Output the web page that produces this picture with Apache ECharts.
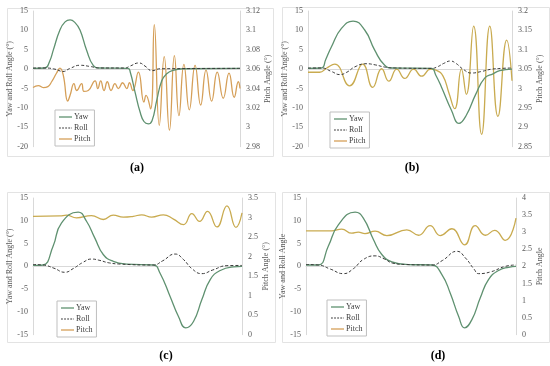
<!DOCTYPE html>
<html><head><meta charset="utf-8">
<script src="https://cdn.jsdelivr.net/npm/echarts@6/dist/echarts.min.js"></script>
<style>html,body{margin:0;padding:0;background:#fff}#c{width:550px;height:366px}</style>
</head><body><div id="c"></div>
<script>
// ---------- DATA ----------
const panelLabels = ['(a)', '(b)', '(c)', '(d)'];
const seriesNames = ['Yaw', 'Roll', 'Pitch'];
const leftNames = ['Yaw and Roll Angle (°)', 'Yaw and Roll Angle (°)', 'Yaw and Roll Angle (°)', 'Yaw and Roll Angle'];
const rightNames = ['Pitch Angle (°)', 'Pitch Angle (°)', 'Pitch Angle (°)', 'Pitch Angle'];
const leftRanges = [[-20, 15, 5], [-20, 15, 5], [-15, 15, 5], [-15, 15, 5]];
const rightRanges = [[2.98, 3.12, 0.02], [2.85, 3.2, 0.05], [0, 3.5, 0.5], [0, 4, 0.5]];

// time (0-100, arbitrary units), angle
const yawA = [[0,0.2],[5.8,0.3],[8,2],[9.8,4.9],[13,10.1],[15.5,12.2],[17.9,12.7],[20.3,12],[22.7,10.1],[25.9,4.9],[29.1,1.0],[32.4,0.3],[45.9,0.2],[47,-0.8],[49.3,-5.9],[51.7,-11],[53.6,-13.5],[55.7,-14.1],[57.5,-13.3],[59.8,-8],[62.2,-3],[64.6,-1.2],[67.6,-0.3],[72.5,0.1],[100,0.2]];
const rollA = [[0,0.3],[5.8,0.3],[10.6,0],[14.5,-0.6],[17.9,0.2],[22.7,1.0],[27.5,0.7],[32.4,0.3],[44.4,0.3],[46.9,0.8],[51.2,1.6],[54.1,0.8],[57.5,-0.4],[61.4,0.1],[100,0.2]];
const pitchA = [[0,3.041],[2.6,3.043],[5,3.041],[7.2,3.042],[9,3.047],[11.4,3.056],[13,3.061],[14.6,3.054],[16.8,3.027],[17.9,3.033],[19.8,3.045],[21.1,3.038],[23.5,3.045],[24.6,3.037],[26.7,3.038],[30,3.048],[31.3,3.040],[32.7,3.048],[34.3,3.038],[35.9,3.047],[37.7,3.038],[39.6,3.045],[41.2,3.040],[43.3,3.046],[45.3,3.040],[46.6,3.046],[48.2,3.038],[50.9,3.057],[53.6,3.026],[54.6,3.033],[56.8,3.019],[58.6,3.106],[61,3.002],[63.4,3.073],[65.9,2.997],[68.3,3.074],[70.5,3.012],[72.9,3.065],[75.5,3.018],[78.3,3.064],[81,3.023],[83.6,3.059],[86.3,3.027],[89,3.057],[91.9,3.030],[94.7,3.056],[97.2,3.031],[99.2,3.047],[100,3.040]];

const yawB = [[0,0.2],[6.6,0.3],[8.7,2.5],[11.5,5.8],[16.4,10.5],[22.1,12.4],[27.8,10.1],[32.7,4.9],[37.6,1.0],[41.5,0.3],[60.5,0.2],[62.6,-1.5],[65.4,-4.6],[70.3,-10.6],[74,-14],[77.6,-11.9],[82.2,-6.5],[86.6,-2.3],[90.7,-1.2],[94,-0.4],[100,0]];
const rollB = [[0,0.3],[6.6,0.3],[11.5,-0.6],[15.6,-1.4],[19,-0.8],[23,0.6],[28.5,1.4],[33,1.1],[38,0.5],[43,0.3],[60.5,0.2],[63,0.5],[67,1.6],[69.8,2.1],[72.5,1.5],[76,0],[80.1,-1.0],[85,-0.6],[90,0],[95,0.2],[100,0.3]];
const pitchB = [[0,3.042],[5.7,3.042],[9.2,3.053],[13.1,3.063],[20.4,3.007],[26.8,3.063],[31.7,3.003],[36.1,3.051],[39.6,3.019],[43.5,3.05],[47.4,3.026],[51.8,3.05],[55.7,3.032],[60.1,3.05],[63,3.047],[66.2,3.032],[69,2.99],[71.9,2.948],[75.2,3.05],[77.6,2.985],[81.2,3.161],[85.1,2.882],[89.1,3.161],[93.1,2.928],[97.4,3.125],[100,3.02]];

const yawC = [[0,0.2],[4.8,0.3],[9.6,4.4],[13.6,9.5],[21.6,11.9],[25.6,9.9],[29.6,6.2],[33.6,2.6],[38.4,1.1],[44.8,0.5],[57.6,0.3],[60.8,-1.5],[65.6,-6.6],[69.6,-11],[73.1,-13.5],[76.8,-12.1],[80.8,-7.3],[84.8,-2.9],[89.6,-0.9],[96,-0.1],[100,0]];
const rollC = [[0,0.4],[4.8,0.3],[10,-0.4],[15.2,-1.3],[19.2,-0.5],[24,0.9],[28,1.6],[32,1.3],[36,0.8],[41.6,0.5],[57.6,0.3],[62,1.2],[68,2.7],[72,1.5],[76,-0.5],[80.8,-1.6],[86,-0.8],[92.8,0.15],[100,0.2]];
const pitchC = [[0,3.03],[12.8,3.04],[16,3.06],[20.8,2.99],[28,3.05],[33.6,2.95],[38.4,3.06],[43.2,3.01],[48,3.03],[52,3.07],[56.8,3.01],[62.4,3.07],[67.2,2.96],[72,2.82],[76,3.10],[79.7,2.90],[83.5,3.16],[88,2.76],[92.8,3.30],[97.1,2.75],[100,3.12]];

const yawD = [[0,0.3],[5.9,0.3],[10.6,4.4],[15.4,9.1],[23.4,11.9],[27.3,10.6],[32.1,5.9],[36.1,2.6],[40.9,1.0],[48.8,0.4],[59.9,0.3],[64.7,-1.8],[68.7,-5.9],[72.7,-11],[75.5,-13.5],[79,-11.7],[83,-6.9],[86.9,-2.9],[91.7,-0.9],[96.5,-0.2],[100,0]];
const rollD = [[0,0.4],[5.9,0.3],[11.6,-0.6],[17.8,-1.6],[22.6,-0.5],[27.3,1.5],[32.9,2.3],[37.4,1.6],[41.3,0.7],[48,0.4],[60,0.3],[65,1.3],[71.9,3.3],[76,1.8],[80,-0.6],[82.2,-1.6],[88,-1.2],[94.9,0],[100,0.3]];
const pitchD = [[0,3.04],[12.2,3.04],[17,3.09],[21.8,2.97],[24.9,3.00],[28.1,2.96],[32.9,3.03],[38.5,2.90],[48,3.07],[53.6,2.91],[59.1,3.19],[63.9,2.90],[69.5,3.10],[75.5,2.63],[80.6,3.19],[85.4,2.91],[89.8,3.05],[94.9,2.76],[100,3.41]];

const panelData = [[yawA, rollA, pitchA], [yawB, rollB, pitchB], [yawC, rollC, pitchC], [yawD, rollD, pitchD]];

// ---------- LAYOUT / STYLE ----------
const gridPos = [
  {left: 33, top: 11, width: 207, height: 135.7},
  {left: 308, top: 11, width: 204, height: 135.7},
  {left: 33, top: 198, width: 209, height: 136.7},
  {left: 306, top: 198, width: 210, height: 136.7}
];
const framePos = [[5, 6, 266, 148], [280, 5, 267, 149], [5, 190, 268, 150], [280, 190, 267, 150]];
const labelPos = [[137, 168], [412, 168], [166, 356], [438, 356]];
const legendPos = [[55, 110], [330, 112], [57, 301], [327, 300]];
const FONT = 'Liberation Serif';
const yawColor = '#5f9170', rollColor = '#3a3a3a';
const pitchColors = ['#d59f58', '#c9ab50', '#c9ab50', '#c9ab50'];
const axisGrey = '#d9d9d9', labelGrey = '#595959';
const solidIcon = 'path://M0,0H20V2H0Z';
const dashIcon = 'path://M0,0H3V2H0Z M5,0H8V2H5Z M10,0H13V2H10Z M15,0H18V2H15Z M20,0H21V2H20Z';

const grid = [], xAxis = [], yAxis = [], series = [], legend = [], graphic = [];
for (let i = 0; i < 4; i++) {
  grid.push(Object.assign({containLabel: false}, gridPos[i]));
  xAxis.push({type: 'value', gridIndex: i, min: 0, max: 100, show: true,
    axisLine: {show: true, onZero: true, onZeroAxisIndex: 2 * i, lineStyle: {color: axisGrey, width: 1}},
    axisTick: {show: false}, axisLabel: {show: false}, splitLine: {show: false}});
  const L = leftRanges[i], R = rightRanges[i];
  yAxis.push({type: 'value', gridIndex: i, position: 'left', min: L[0], max: L[1], interval: L[2],
    name: leftNames[i], nameLocation: 'middle', nameRotate: 90, nameGap: 11,
    nameTextStyle: {fontFamily: FONT, fontSize: 8, color: labelGrey},
    axisLine: {show: true, lineStyle: {color: axisGrey}}, axisTick: {show: false},
    axisLabel: {fontFamily: FONT, fontSize: 8, color: labelGrey, margin: 5},
    splitLine: {show: false}});
  yAxis.push({type: 'value', gridIndex: i, position: 'right', min: R[0], max: R[1], interval: R[2],
    name: rightNames[i], nameLocation: 'middle', nameRotate: 90, nameGap: 16,
    nameTextStyle: {fontFamily: FONT, fontSize: 8, color: labelGrey},
    axisLine: {show: true, lineStyle: {color: axisGrey}}, axisTick: {show: false},
    axisLabel: {fontFamily: FONT, fontSize: 8, color: labelGrey, margin: 6},
    splitLine: {show: false}});
  const d = panelData[i];
  const styles = [
    {color: yawColor, width: 1.3, type: 'solid'},
    {color: rollColor, width: 1, type: [3, 2]},
    {color: pitchColors[i], width: 1.3, type: 'solid'}
  ];
  for (let s = 0; s < 3; s++) {
    series.push({type: 'line', name: seriesNames[s], xAxisIndex: i, yAxisIndex: s === 2 ? 2 * i + 1 : 2 * i,
      data: d[s], smooth: 0.5, symbol: 'none', lineStyle: styles[s], itemStyle: {color: styles[s].color},
      z: s === 2 ? 2 : 3, animation: false});
  }
  legend.push({orient: 'vertical', left: legendPos[i][0], top: legendPos[i][1],
    data: [{name: 'Yaw', icon: solidIcon}, {name: 'Roll', icon: dashIcon}, {name: 'Pitch', icon: solidIcon}],
    itemWidth: 13, itemHeight: 1.3, itemGap: 1, itemSymbolKeepAspect: false, padding: [2, 4, 2, 4],
    borderColor: '#bfbfbf', borderWidth: 1, backgroundColor: '#fff',
    textStyle: {fontFamily: FONT, fontSize: 8, color: '#404040', padding: [0, 0, 0, -3], lineHeight: 10}, selectedMode: false});
  graphic.push({type: 'rect', left: framePos[i][0], top: framePos[i][1], z: -1,
    shape: {width: framePos[i][2], height: framePos[i][3]},
    style: {fill: 'none', stroke: '#e3e3e3', lineWidth: 1}});
  graphic.push({type: 'text', x: labelPos[i][0], y: labelPos[i][1],
    style: {text: panelLabels[i], font: 'bold 12px "Liberation Serif"', fill: '#000', textAlign: 'center', textVerticalAlign: 'middle'}});
}

const chart = echarts.init(document.getElementById('c'), null, {renderer: 'canvas'});
chart.setOption({animation: false, backgroundColor: '#fff', grid, xAxis, yAxis, series, legend, graphic});
</script></body></html>
